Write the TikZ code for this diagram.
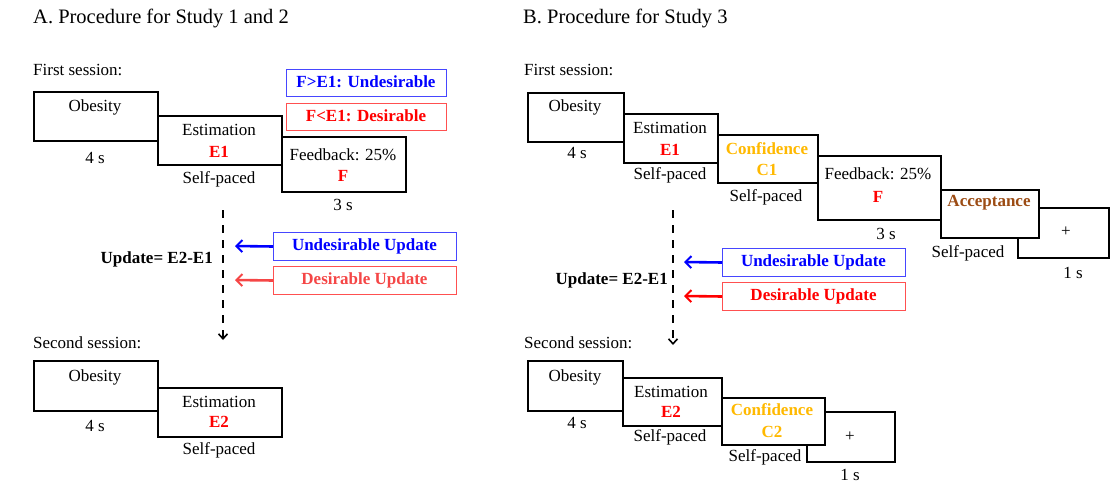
\documentclass[tikz,border=0pt]{standalone}
\usepackage{fontspec}
\setmainfont{Liberation Serif}
\usetikzlibrary{arrows.meta}
\definecolor{ublue}{RGB}{0,0,255}
\definecolor{ubluebox}{RGB}{70,70,255}
\definecolor{ured}{RGB}{255,0,0}
\definecolor{uredlight}{RGB}{245,70,70}
\definecolor{uredbox}{RGB}{255,80,80}
\definecolor{conf}{RGB}{255,185,0}
\definecolor{accep}{RGB}{156,76,20}
\newcommand\bx[6]{\node[#6, anchor=north west, minimum width={#4-#2}, minimum height={#5-#3}, inner sep=0pt] (#1) at (#2,#3) {};}
\begin{document}
\begin{tikzpicture}[x=1pt,y=-1pt,
  font=\fontsize{17}{20}\selectfont,
  every node/.style={inner sep=0pt},
  tbox/.style={draw=black, line width=1.8pt, fill=white},
  ubox/.style={draw=ubluebox, line width=1pt, fill=white},
  dbox/.style={draw=uredbox, line width=1pt, fill=white},
  title/.style={font=\fontsize{20.5}{24}\selectfont, anchor=west},
  sess/.style={anchor=west},
  redb/.style={text=ured, font=\fontsize{17}{20}\selectfont\bfseries},
  blueb/.style={text=ublue, font=\fontsize{17}{20}\selectfont\bfseries},
  confb/.style={text=conf, font=\fontsize{17}{20}\selectfont\bfseries},
  accb/.style={text=accep, font=\fontsize{17}{20}\selectfont\bfseries},
  boldt/.style={font=\fontsize{17}{20}\selectfont\bfseries},
  dashline/.style={draw=black, line width=2.4pt, dash pattern=on 8pt off 7pt, -{Straight Barb[length=5pt,width=9pt,line width=1.6pt]}},
  upArrow/.style={line width=2.6pt, -{Straight Barb[length=6pt,width=12pt,line width=2pt]}}
]
\useasboundingbox (0,0) rectangle (1115,484);

% ---------------- Panel A ----------------
\node[title] (titA) at (33,18) {A. Procedure for Study 1 and 2};
\node[sess] (fsA) at (33,70) {First session:};

\bx{obA}{33}{91}{157}{140}{tbox}
\bx{esA}{157}{115}{281}{164}{tbox}
\bx{fbA}{281}{136}{405}{191}{tbox}
\node (obAt) at (95,107) {Obesity};
\node (obAs) at (95,158) {4 s};
\node (esAt) at (219,130) {Estimation};
\node[redb] (esAe) at (219,152) {E1};
\node (esAs) at (219,179) {Self-paced};
\node (fbAt) at (343,155) {Feedback: 25\%};
\node[redb] (fbAf) at (343,176) {F};
\node (fbAs) at (343,205) {3 s};

\bx{undA}{286}{69}{446}{96}{ubox}
\node[blueb] (undAt) at (366,82) {F>E1: Undesirable};
\bx{desA}{286}{103}{446}{130}{dbox}
\node[redb] (desAt) at (366,116) {F<E1: Desirable};

\coordinate (dA1) at (223,210);
\coordinate (dA2) at (223,340);
\draw[dashline] (dA1) -- (dA2);

\bx{uuA}{273}{232}{456}{260}{ubox}
\node[blueb] (uuAt) at (364.5,246) {Undesirable Update};
\bx{duA}{273}{266}{456}{294}{dbox}
\node[text=uredlight, font=\fontsize{17}{20}\selectfont\bfseries] (duAt) at (364.5,280) {Desirable Update};
\coordinate (aA1) at (235,246);
\coordinate (aA2) at (235,280);
\draw[upArrow, ublue] (uuA.west) -- (aA1);
\draw[upArrow, uredlight] (duA.west) -- (aA2);
\node[boldt, anchor=east] (updA) at (213,259) {Update= E2-E1};

\node[sess] (ssA) at (33,343) {Second session:};
\bx{obA2}{33}{360}{157}{410}{tbox}
\bx{esA2}{157}{387}{281}{436}{tbox}
\node (obA2t) at (95,377) {Obesity};
\node (obA2s) at (95,426) {4 s};
\node (esA2t) at (219,402) {Estimation};
\node[redb] (esA2e) at (219,422) {E2};
\node (esA2s) at (219,450) {Self-paced};

% ---------------- Panel B ----------------
\node[title] (titB) at (523,18) {B. Procedure for Study 3};
\node[sess] (fsB) at (524,70) {First session:};

\bx{plB}{1017}{207}{1108}{257}{tbox}
\bx{obB}{527}{92}{623}{141}{tbox}
\bx{esB}{623}{113}{717}{162}{tbox}
\bx{cfB}{717}{134}{817}{182}{tbox}
\bx{fbB}{817}{155}{940}{219}{tbox}
\bx{acB}{940}{189}{1038}{237}{tbox}

\node (obBt) at (575,107) {Obesity};
\node (obBs) at (577,153) {4 s};
\node (esBt) at (670,128) {Estimation};
\node[redb] (esBe) at (670,150) {E1};
\node (esBs) at (670,175) {Self-paced};
\node[confb] (cfBt) at (767,149) {Confidence};
\node[confb] (cfBc) at (767,170) {C1};
\node (cfBs) at (766,197) {Self-paced};
\node (fbBt) at (878,174) {Feedback: 25\%};
\node[redb] (fbBf) at (878,197) {F};
\node (fbBs) at (886,234) {3 s};
\node[accb] (acBt) at (989,203) {Acceptance};
\node (acBs) at (968,253) {Self-paced};
\node (plBt) at (1066,232) {+};
\node (plBs) at (1073,273) {1 s};

\coordinate (dB1) at (673,210);
\coordinate (dB2) at (673,345);
\draw[dashline] (dB1) -- (dB2);

\bx{uuB}{722}{248}{905}{276}{ubox}
\node[blueb] (uuBt) at (813.5,262) {Undesirable Update};
\bx{duB}{722}{282}{905}{310}{dbox}
\node[redb] (duBt) at (813.5,296) {Desirable Update};
\coordinate (aB1) at (684,262);
\coordinate (aB2) at (684,296);
\draw[upArrow, ublue] (uuB.west) -- (aB1);
\draw[upArrow, ured] (duB.west) -- (aB2);
\node[boldt, anchor=east] (updB) at (668,280) {Update= E2-E1};

\node[sess] (ssB) at (524,343) {Second session:};
\bx{plB2}{806}{411}{894}{461}{tbox}
\bx{obB2}{527}{360}{622}{410}{tbox}
\bx{esB2}{622}{377}{721}{425}{tbox}
\bx{cfB2}{721}{397}{824}{444}{tbox}
\node (obB2t) at (575,377) {Obesity};
\node (obB2s) at (577,423) {4 s};
\node (esB2t) at (671,392) {Estimation};
\node[redb] (esB2e) at (671,412) {E2};
\node (esB2s) at (670,437) {Self-paced};
\node[confb] (cfB2t) at (772,410) {Confidence};
\node[confb] (cfB2c) at (772,432) {C2};
\node (cfB2s) at (765,457) {Self-paced};
\node (plB2t) at (850,437) {+};
\node (plB2s) at (850,475) {1 s};
\end{tikzpicture}
\end{document}
